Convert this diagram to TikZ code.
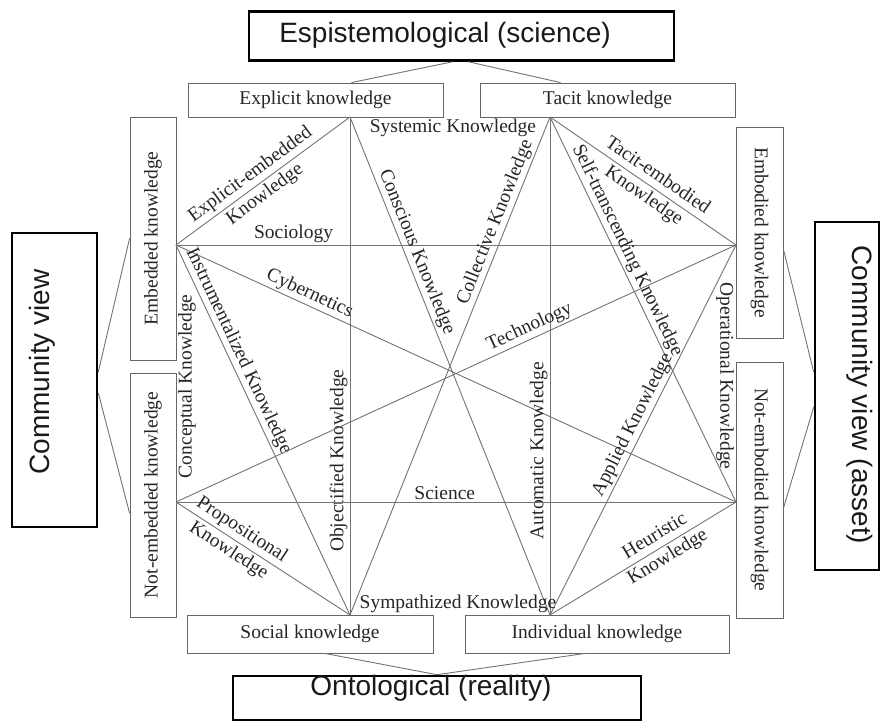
\documentclass[tikz,border=0pt]{standalone}
\usepackage{fontspec}
\setmainfont{Liberation Serif}
\newfontfamily\headfont{Liberation Sans}
\usetikzlibrary{positioning}

\begin{document}
\begin{tikzpicture}[
    x=1pt, y=-1pt,
    kbox/.style={draw=black!60, line width=0.9pt, inner sep=0pt, text=black!85, font=\fontsize{19.5}{23.4}\selectfont},
    bigbox/.style={draw=black, line width=2.6pt, inner sep=0pt},
    head/.style={inner sep=0pt, text=black!90, font=\headfont\fontsize{28}{33}\selectfont},
    lbl/.style={inner sep=2pt, text=black!85, font=\fontsize{19.5}{23.4}\selectfont},
    twoline/.style={lbl, align=center, sloped, inner sep=0pt, font=\fontsize{19.5}{24.5}\selectfont},
    link/.style={draw=black!55, line width=0.9pt}
]
\useasboundingbox (0,0) rectangle (881,722);

\node[bigbox, minimum width=425pt, minimum height=49pt] (epi) at (461.5,36) {};
\node[head] (epitxt) at (445,35) {Espistemological (science)};
\node[bigbox, minimum width=408pt, minimum height=44pt] (ont) at (437,698) {};
\node[head] (onttxt) at (431,688) {Ontological (reality)};
\node[bigbox, minimum width=85pt, minimum height=294pt] (cvl) at (54.5,380) {};
\node[head, rotate=90] (cvltxt) at (42,372) {Community view};
\node[bigbox, minimum width=64pt, minimum height=348pt] (cvr) at (847,396) {};
\node[head, rotate=-90] (cvrtxt) at (860,395) {Community view (asset)};

\node[kbox, minimum width=255pt, minimum height=34pt] (expl) at (315.5,100) {Explicit knowledge};
\node[kbox, minimum width=255pt, minimum height=34pt] (tac) at (607.5,100) {Tacit knowledge};
\node[kbox, rotate=90, minimum width=243pt, minimum height=46pt] (embd) at (153,238.5) {Embedded knowledge};
\node[kbox, rotate=90, minimum width=244pt, minimum height=46pt] (nemb) at (153,495) {Not-embedded knowledge};
\node[kbox, rotate=-90, minimum width=211pt, minimum height=47pt] (embo) at (759.5,232.5) {Embodied knowledge};
\node[kbox, rotate=-90, minimum width=256pt, minimum height=47pt] (nembo) at (759.5,490) {Not-embodied knowledge};
\node[kbox, minimum width=246pt, minimum height=38pt] (soc) at (310,634) {Social knowledge};
\node[kbox, minimum width=264pt, minimum height=38pt] (ind) at (597,634) {Individual knowledge};

\coordinate (vEx) at (350,117);
\coordinate (vTa) at (550,117);
\coordinate (vE1) at (176,245);
\coordinate (vN1) at (176,502);
\coordinate (vEm) at (736,245);
\coordinate (vNe) at (736,502);
\coordinate (vSo) at (350,615);
\coordinate (vIn) at (550,615);

\draw[link] ([xshift=-9pt]epi.south) -- ([xshift=36pt]expl.north);
\draw[link] ([xshift=7pt]epi.south) -- ([xshift=-47pt]tac.north);
\draw[link] ([xshift=15pt]soc.south) -- (ont.north);
\draw[link] ([xshift=-12pt]ind.south) -- (ont.north);
\draw[link] ([yshift=8pt]cvl.east) -- (embd.north);
\draw[link] ([yshift=-13pt]cvl.east) -- ([yshift=-18pt]nemb.north);
\draw[link] ([yshift=-17pt]embo.north) -- ([yshift=24pt]cvr.west);
\draw[link] ([yshift=-18pt]nembo.north) -- ([yshift=-11pt]cvr.west);

\draw[link] (vE1) -- node[twoline, pos=0.47] {Explicit-embedded\\Knowledge} (vEx);
\draw[link] (vE1) -- node[lbl, above, sloped, pos=0.21] {Sociology} (vEm);
\draw[link] (vE1) -- node[lbl, above, sloped, pos=0.23] {Cybernetics} (vNe);
\draw[link] (vE1) -- node[lbl, above, sloped, pos=0.30] {Instrumentalized Knowledge} (vSo);
\draw[link] (vEx) -- node[lbl, rotate=90, anchor=south, pos=0.69] {Objectified Knowledge} (vSo);
\draw[link] (vEx) -- node[lbl, above, sloped, pos=0.28] {Conscious Knowledge} (vIn);
\draw[link] (vSo) -- node[lbl, above, sloped, pos=0.78] {Collective Knowledge} (vTa);
\draw[link] (vTa) -- node[lbl, rotate=90, anchor=south, pos=0.67] {Automatic Knowledge} (vIn);
\draw[link] (vTa) -- node[twoline, pos=0.54] {Tacit-embodied\\Knowledge} (vEm);
\draw[link] (vTa) -- node[lbl, above, sloped, pos=0.36] {Self-transcending Knowledge} (vNe);
\draw[link] (vN1) -- node[lbl, above, sloped, pos=0.64] {Technology} (vEm);
\draw[link] (vIn) -- node[lbl, above, sloped, pos=0.5] {Applied Knowledge} (vEm);
\draw[link] (vN1) -- node[lbl, above, sloped, pos=0.48] {Science} (vNe);
\draw[link] (vN1) -- node[twoline, pos=0.34] {Propositional\\Knowledge} (vSo);
\draw[link] (vIn) -- node[twoline, pos=0.6] {Heuristic\\Knowledge} (vNe);
\path (vEx) -- node[lbl, below, pos=0.515] {Systemic Knowledge} (vTa);
\path (vSo) -- node[lbl, above, pos=0.54] {Sympathized Knowledge} (vIn);
\path (vE1) -- node[lbl, rotate=90, anchor=north, pos=0.55] {Conceptual Knowledge} (vN1);
\path (vEm) -- node[lbl, rotate=-90, anchor=north, pos=0.51] {Operational Knowledge} (vNe);
\end{tikzpicture}
\end{document}
